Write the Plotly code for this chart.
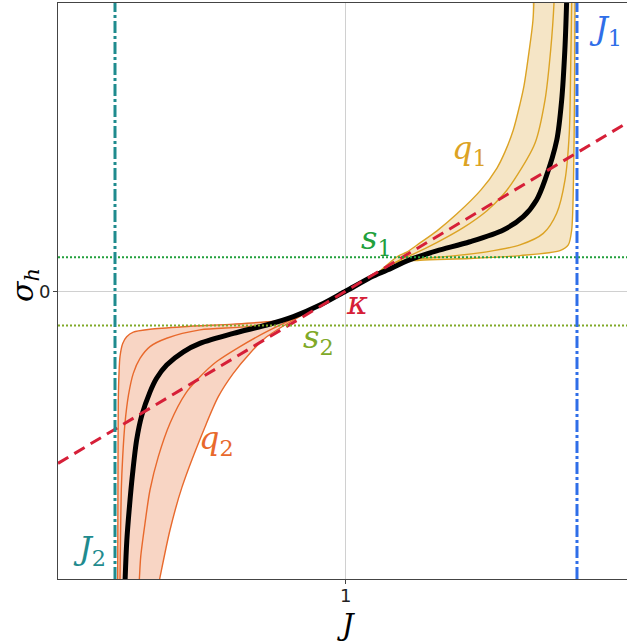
import plotly.graph_objects as go

# ---------------- data ----------------
KAPPA = 0.6
J1 = 1.8
J2 = 0.2
S1 = 0.117
S2 = -0.12
X_RANGE = [0.0026, 1.9732]
Y_RANGE = [-1.0, 1.0]
X_TICK = 1
X_TICK_TEXT = "1"
Y_TICK = 0
Y_TICK_TEXT = "0"

# thick black curve
black_J = [0.233, 0.235, 0.241, 0.250, 0.261, 0.275, 0.293, 0.321, 0.344, 0.379, 0.437, 0.494,
           0.610, 0.725, 0.818, 0.910, 1.0, 1.095, 1.141, 1.222, 1.314, 1.429, 1.545, 1.614,
           1.660, 1.689, 1.730, 1.747, 1.758, 1.764, 1.766]
black_s = [-1.073, -1.003, -0.865, -0.749, -0.633, -0.517, -0.431, -0.351, -0.303, -0.257, -0.211, -0.182,
           -0.147, -0.118, -0.089, -0.049, 0.0, 0.052, 0.072, 0.109, 0.139, 0.171, 0.212, 0.258,
           0.316, 0.385, 0.524, 0.663, 0.837, 0.999, 1.080]

# q2 family (lower left), ordered bottom -> centre
q2a_J = [0.2087, 0.2093, 0.2104, 0.2114, 0.2139, 0.2173, 0.2267, 0.2405, 0.2634, 0.3212, 0.4365, 0.6097, 0.7254, 0.8175, 0.910, 1.0]
q2a_s = [-1.073, -1.003, -0.622, -0.378, -0.286, -0.228, -0.182, -0.159, -0.143, -0.133, -0.124, -0.115, -0.107, -0.095, -0.049, 0.0]
q2b_J = [0.2163, 0.2173, 0.2190, 0.2218, 0.2267, 0.2346, 0.2468, 0.2634, 0.2866, 0.3212, 0.3790, 0.4944, 0.6675, 0.8165, 0.910, 1.0]
q2b_s = [-1.073, -1.003, -0.865, -0.691, -0.575, -0.459, -0.361, -0.286, -0.234, -0.193, -0.164, -0.135, -0.123, -0.092, -0.049, 0.0]
q2c_J = [0.2797, 0.2842, 0.2890, 0.3039, 0.3212, 0.3500, 0.3905, 0.4442, 0.4944, 0.5522, 0.6329, 0.7254, 0.8165, 0.910, 1.0]
q2c_s = [-1.073, -1.003, -0.923, -0.807, -0.691, -0.575, -0.459, -0.356, -0.298, -0.245, -0.193, -0.141, -0.097, -0.049, 0.0]
q2d_J = [0.3403, 0.3541, 0.3905, 0.4320, 0.5117, 0.5578, 0.6097, 0.6675, 0.7254, 0.8175, 0.910, 1.0]
q2d_s = [-1.073, -1.003, -0.830, -0.681, -0.472, -0.367, -0.286, -0.216, -0.159, -0.101, -0.049, 0.0]

# q1 family (upper right), ordered centre -> top
q1e_J = [1.0, 1.095, 1.1756, 1.2102, 1.2563, 1.3141, 1.3834, 1.4675, 1.5229, 1.5506, 1.5794, 1.6026, 1.6164, 1.6338, 1.6476, 1.6528]
q1e_s = [0.0, 0.052, 0.118, 0.135, 0.167, 0.208, 0.267, 0.351, 0.427, 0.483, 0.559, 0.649, 0.712, 0.830, 0.941, 1.080]
q1f_J = [1.0, 1.095, 1.1870, 1.2331, 1.3141, 1.4062, 1.4873, 1.5448, 1.5818, 1.6545, 1.6892, 1.7089, 1.7203, 1.7221]
q1f_s = [0.0, 0.052, 0.108, 0.128, 0.168, 0.220, 0.278, 0.335, 0.385, 0.513, 0.663, 0.837, 0.999, 1.080]
q1g_J = [1.0, 1.095, 1.1756, 1.2563, 1.3716, 1.4873, 1.6026, 1.6833, 1.7297, 1.7584, 1.7733, 1.7782, 1.7816, 1.7827]
q1g_s = [0.0, 0.052, 0.101, 0.112, 0.122, 0.136, 0.160, 0.200, 0.270, 0.385, 0.548, 0.779, 0.999, 1.080]
q1h_J = [1.0, 1.095, 1.1756, 1.2563, 1.4294, 1.6026, 1.7411, 1.7699, 1.7816, 1.7879, 1.7913, 1.7931, 1.7938]
q1h_s = [0.0, 0.052, 0.100, 0.107, 0.113, 0.123, 0.140, 0.160, 0.212, 0.385, 0.663, 0.999, 1.080]

# ---------------- styles ----------------
Q2_LINE = "#e8692c"
Q2_FILL = "#f8d5c4"
Q1_LINE = "#dca324"
Q1_FILL = "#f5e5c6"
KAPPA_C = "#d61f38"
J1_C = "#2f6ee8"
J2_C = "#1f8b8e"
S1_C = "#22a03c"
S2_C = "#80a928"
SERIF = "DejaVu Serif"
SANS = "DejaVu Sans"

fig = go.Figure()

def fill_between(xa, ya, xb, yb, color):
    fig.add_trace(go.Scatter(
        x=list(xa) + list(reversed(xb)), y=list(ya) + list(reversed(yb)),
        mode="lines", fill="toself", fillcolor=color,
        line=dict(width=0, shape="spline", smoothing=0.8), hoverinfo="skip"))

def thin(xs, ys, color):
    fig.add_trace(go.Scatter(x=xs, y=ys, mode="lines",
                             line=dict(color=color, width=1.4, shape="spline", smoothing=0.8),
                             hoverinfo="skip"))

fill_between(q2a_J, q2a_s, q2d_J, q2d_s, Q2_FILL)
fill_between(q1e_J, q1e_s, q1h_J, q1h_s, Q1_FILL)
for xs, ys in [(q2a_J, q2a_s), (q2b_J, q2b_s), (q2c_J, q2c_s), (q2d_J, q2d_s)]:
    thin(xs, ys, Q2_LINE)
for xs, ys in [(q1e_J, q1e_s), (q1f_J, q1f_s), (q1g_J, q1g_s), (q1h_J, q1h_s)]:
    thin(xs, ys, Q1_LINE)

fig.add_trace(go.Scatter(x=black_J, y=black_s, mode="lines",
                         line=dict(color="black", width=5, shape="spline", smoothing=0.8),
                         hoverinfo="skip"))

# s1, s2 dotted levels
fig.add_hline(y=S1, line=dict(color=S1_C, width=2, dash="2px,2px"))
fig.add_hline(y=S2, line=dict(color=S2_C, width=2, dash="2px,2px"))

# kappa line
kx = [X_RANGE[0], X_RANGE[1]]
ky = [KAPPA * (x - 1.0) for x in kx]
fig.add_trace(go.Scatter(x=kx, y=ky, mode="lines",
                         line=dict(color=KAPPA_C, width=3, dash="12px,7px"), hoverinfo="skip"))

# J1, J2 verticals
fig.add_vline(x=J1, line=dict(color=J1_C, width=3, dash="12px,3px,3px,3px"))
fig.add_vline(x=J2, line=dict(color=J2_C, width=3, dash="12px,3px,3px,3px"))

def label(text, x, y, color, size=32):
    fig.add_annotation(x=x, y=y, xref="x", yref="y", text=text, showarrow=False,
                       font=dict(family=SERIF, size=size, color=color),
                       xanchor="center", yanchor="middle")

label("<i>J</i><sub>1</sub>", 1.900, 0.906, J1_C)
label("<i>q</i><sub>1</sub>", 1.429, 0.490, Q1_LINE)
label("<i>s</i><sub>1</sub>", 1.104, 0.177, S1_C)
label("<i>κ</i>", 1.038, -0.042, KAPPA_C)
label("<i>s</i><sub>2</sub>", 0.906, -0.167, S2_C)
label("<i>q</i><sub>2</sub>", 0.550, -0.517, Q2_LINE)
label("<i>J</i><sub>2</sub>", 0.110, -0.899, J2_C)

# tick labels (drawn as text so their size is exact)
fig.add_annotation(x=X_TICK, y=-0.0285, xref="x", yref="paper", text=X_TICK_TEXT, showarrow=False,
                   font=dict(family=SANS, size=18, color="#222"), xanchor="center", yanchor="middle")
fig.add_annotation(x=-0.0246, y=Y_TICK, xref="paper", yref="y", text=Y_TICK_TEXT, showarrow=False,
                   font=dict(family=SANS, size=18, color="#222"), xanchor="center", yanchor="middle")

# axis titles
fig.add_annotation(x=1.0, y=-0.079, xref="x", yref="paper", text="<i>J</i>", showarrow=False,
                   font=dict(family=SERIF, size=29, color="black"), xanchor="center", yanchor="middle")
fig.add_annotation(x=-0.06, y=0.51, xref="paper", yref="paper", text="<i>σ</i><sub><i>h</i></sub>",
                   showarrow=False, textangle=-90,
                   font=dict(family=SERIF, size=30, color="black"), xanchor="center", yanchor="middle")

fig.update_layout(
    width=627, height=642,
    margin=dict(l=58, r=0, t=3, b=63),
    plot_bgcolor="white", paper_bgcolor="white",
    showlegend=False,
    font=dict(family=SERIF, size=18, color="#222"),
)
fig.update_xaxes(range=X_RANGE, tickvals=[X_TICK], showticklabels=False, mirror=True,
                 showgrid=True, gridcolor="#d0d0d0", gridwidth=1, zeroline=False,
                 showline=True, linecolor="#444", linewidth=1,
                 ticks="outside", ticklen=4, tickcolor="#444")
fig.update_yaxes(range=Y_RANGE, tickvals=[Y_TICK], showticklabels=False,
                 showgrid=True, gridcolor="#d0d0d0", gridwidth=1, zeroline=False,
                 showline=True, linecolor="#444", linewidth=1,
                 ticks="outside", ticklen=4, tickcolor="#444")

fig.write_html("out.html")
